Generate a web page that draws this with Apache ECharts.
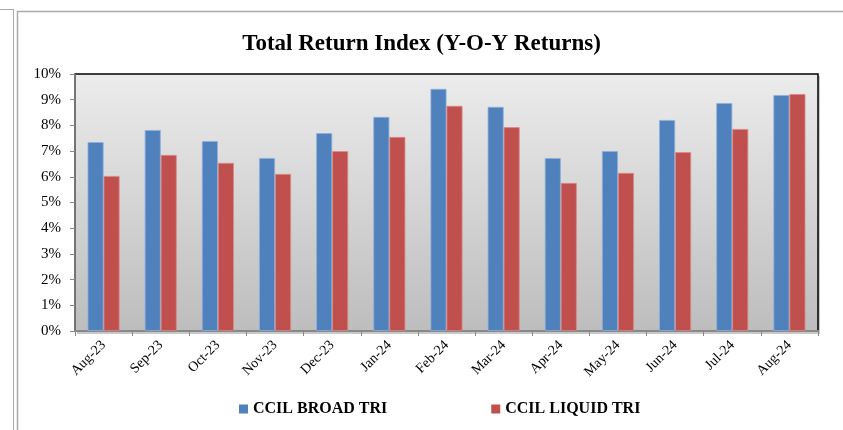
<!DOCTYPE html>
<html>
<head>
<meta charset="utf-8">
<script src="https://cdn.jsdelivr.net/npm/echarts@6/dist/echarts.min.js"></script>
<style>
  html, body { margin: 0; padding: 0; background: #fff; }
  #main { width: 843px; height: 430px; }
</style>
</head>
<body>
<div id="main"></div>
<script>
var months = ['Aug-23', 'Sep-23', 'Oct-23', 'Nov-23', 'Dec-23', 'Jan-24', 'Feb-24',
              'Mar-24', 'Apr-24', 'May-24', 'Jun-24', 'Jul-24', 'Aug-24'];
// Y-O-Y returns in %
var broadTri  = [7.35, 7.82, 7.39, 6.73, 7.70, 8.33, 9.42, 8.72, 6.73, 7.00, 8.21, 8.87, 9.18];
var liquidTri = [6.03, 6.85, 6.54, 6.11, 7.00, 7.55, 8.76, 7.93, 5.76, 6.15, 6.96, 7.86, 9.22];

var serif = '"Liberation Serif", "Times New Roman", serif';

var myChart = echarts.init(document.getElementById('main'));
var option = {
    animation: false,
    title: {
        text: 'Total Return Index (Y-O-Y Returns)',
        left: 'center',
        top: 28,
        textStyle: { fontFamily: serif, fontSize: 23, fontWeight: 'bold', color: '#000' }
    },
    graphic: [
        // outer frames
        { type: 'line', shape: { x1: 13.5, y1: 9, x2: 13.5, y2: 430 }, style: { stroke: '#aaa', lineWidth: 1 } },
        { type: 'line', shape: { x1: 0, y1: 9.5, x2: 13, y2: 9.5 }, style: { stroke: '#aaa', lineWidth: 1 } },
        { type: 'rect', shape: { x: 17.5, y: 11.5, width: 840, height: 430 }, style: { fill: 'none', stroke: '#aaa', lineWidth: 1.5 } },
        // plot area shadow
        { type: 'rect', z: -1, shape: { x: 77, y: 76, width: 743, height: 258 }, style: { fill: '#c8c8c8' } }
    ],
    legend: {
        bottom: 8,
        left: 234,
        itemGap: 104,
        itemWidth: 9,
        itemHeight: 9,
        icon: 'rect',
        itemStyle: { borderWidth: 0 },
        data: ['CCIL BROAD TRI', 'CCIL LIQUID TRI'],
        textStyle: { fontFamily: serif, fontSize: 16, fontWeight: 'bold', color: '#000' }
    },
    grid: {
        left: 75, right: 25, top: 74, bottom: 99,
        show: true,
        borderColor: '#000',
        borderWidth: 1.5,
        backgroundColor: new echarts.graphic.LinearGradient(0, 0, 0, 1, [
            { offset: 0, color: '#ececec' },
            { offset: 1, color: '#bdbdbd' }
        ])
    },
    xAxis: {
        type: 'category',
        data: months,
        axisLine: { lineStyle: { color: '#888', width: 2 } },
        axisTick: { show: true, length: 5, lineStyle: { color: '#888' } },
        axisLabel: {
            rotate: 45,
            interval: 0,
            margin: 12,
            fontFamily: serif,
            fontSize: 14,
            color: '#000'
        }
    },
    yAxis: {
        type: 'value',
        min: 0,
        max: 10,
        interval: 1,
        axisLine: { show: true, lineStyle: { color: '#888', width: 1.5 } },
        axisTick: { show: true, length: 5, lineStyle: { color: '#888' } },
        splitLine: { show: false },
        axisLabel: {
            formatter: '{value}%',
            margin: 14,
            fontFamily: serif,
            fontSize: 15,
            color: '#000'
        }
    },
    series: [
        {
            name: 'CCIL BROAD TRI',
            type: 'bar',
            data: broadTri,
            barGap: '0%',
            barCategoryGap: '44%',
            itemStyle: { color: '#4F81BD', borderColor: '#8fb0da', borderWidth: 0.8 }
        },
        {
            name: 'CCIL LIQUID TRI',
            type: 'bar',
            data: liquidTri,
            itemStyle: { color: '#C0504D', borderColor: '#dc8a88', borderWidth: 0.8 }
        }
    ]
};

myChart.setOption(option);
</script>
</body>
</html>
